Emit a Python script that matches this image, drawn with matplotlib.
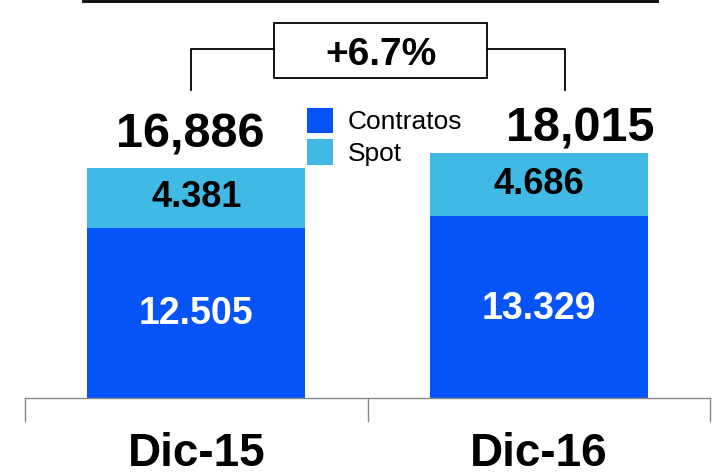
import matplotlib
matplotlib.use("Agg")
import matplotlib.pyplot as plt
from matplotlib.patches import Rectangle

categories = ["Dic-15", "Dic-16"]
contratos = [12.505, 13.329]
spot = [4.381, 4.686]
contratos_labels = ["12.505", "13.329"]
spot_labels = ["4.381", "4.686"]
total_labels = ["16,886", "18,015"]
growth_label = "+6.7%"

C_CONTR = "#0654F8"
C_SPOT = "#41B9E5"

plt.rcParams['font.family'] = ['Liberation Sans', 'DejaVu Sans']

W, H = 717, 476
fig = plt.figure(figsize=(W / 100, H / 100), dpi=100)
px_per_unit = 13.62
y_bottom_px = 398
ax = fig.add_axes([25 / W, (H - y_bottom_px) / H, 685 / W, y_bottom_px / H])
ax.set_xlim(-0.5, 1.5)
ax.set_ylim(0, y_bottom_px / px_per_unit)
ax.axis('off')

x = [0, 1]
bw = 0.636
ax.bar(x, contratos, width=bw, color=C_CONTR, label="Contratos", zorder=2)
ax.bar(x, spot, width=bw, bottom=contratos, color=C_SPOT, label="Spot", zorder=2)

for i in range(2):
    ax.text(x[i], contratos[i] / 2 - 0.1, contratos_labels[i], ha='center', va='center',
            color='white', fontsize=27, fontweight='bold')
    ax.text(x[i], contratos[i] + spot[i] / 2, spot_labels[i], ha='center', va='center',
            color='black', fontsize=26, fontweight='bold')

tot = [contratos[i] + spot[i] for i in range(2)]
ax.text(x[0] - 0.017, tot[0] + 0.75, total_labels[0], ha='center', va='bottom',
        fontsize=35, fontweight='bold')
ax.text(x[1] + 0.12, tot[1] + 0.05, total_labels[1], ha='center', va='bottom',
        fontsize=35, fontweight='bold')

# baseline axis with ticks (figure pixel coords)
def fx(p):
    return p / W
def fy(p):
    return 1 - p / H

axis_col = "#888888"
fig.add_artist(plt.Line2D([fx(25), fx(710)], [fy(398), fy(398)], color=axis_col, lw=1))
for tx in [25, 368, 710]:
    fig.add_artist(plt.Line2D([fx(tx), fx(tx)], [fy(398), fy(421)], color=axis_col, lw=1))

for i, c in enumerate(categories):
    fig.text(fx(197 + i * 342), fy(454), c, ha='center', va='center',
             fontsize=33, fontweight='bold')

# top line
fig.add_artist(plt.Line2D([fx(83), fx(657)], [fy(1.2), fy(1.2)], color='black', lw=2))

# bracket
lw_b = 1.3
fig.add_artist(plt.Line2D([fx(191), fx(191), fx(274)], [fy(90), fy(49), fy(49)], color='black', lw=lw_b))
fig.add_artist(plt.Line2D([fx(487), fx(565), fx(565)], [fy(49), fy(49), fy(90)], color='black', lw=lw_b))
fig.add_artist(Rectangle((fx(274), fy(78)), fx(487) - fx(274), fy(23) - fy(78),
                         transform=fig.transFigure, fill=False, ec='black', lw=lw_b))
fig.text(fx(381), fy(55), growth_label, ha='center', va='center', fontsize=28, fontweight='bold')

# legend
handles, labels = ax.get_legend_handles_labels()
leg = fig.legend(handles, labels, loc='upper left', bbox_to_anchor=(fx(296), fy(97)),
                 frameon=False, fontsize=19, handlelength=1.0, handleheight=1.1,
                 handletextpad=0.55, labelspacing=0.2, borderaxespad=0)

fig.savefig("out.png", dpi=100)
